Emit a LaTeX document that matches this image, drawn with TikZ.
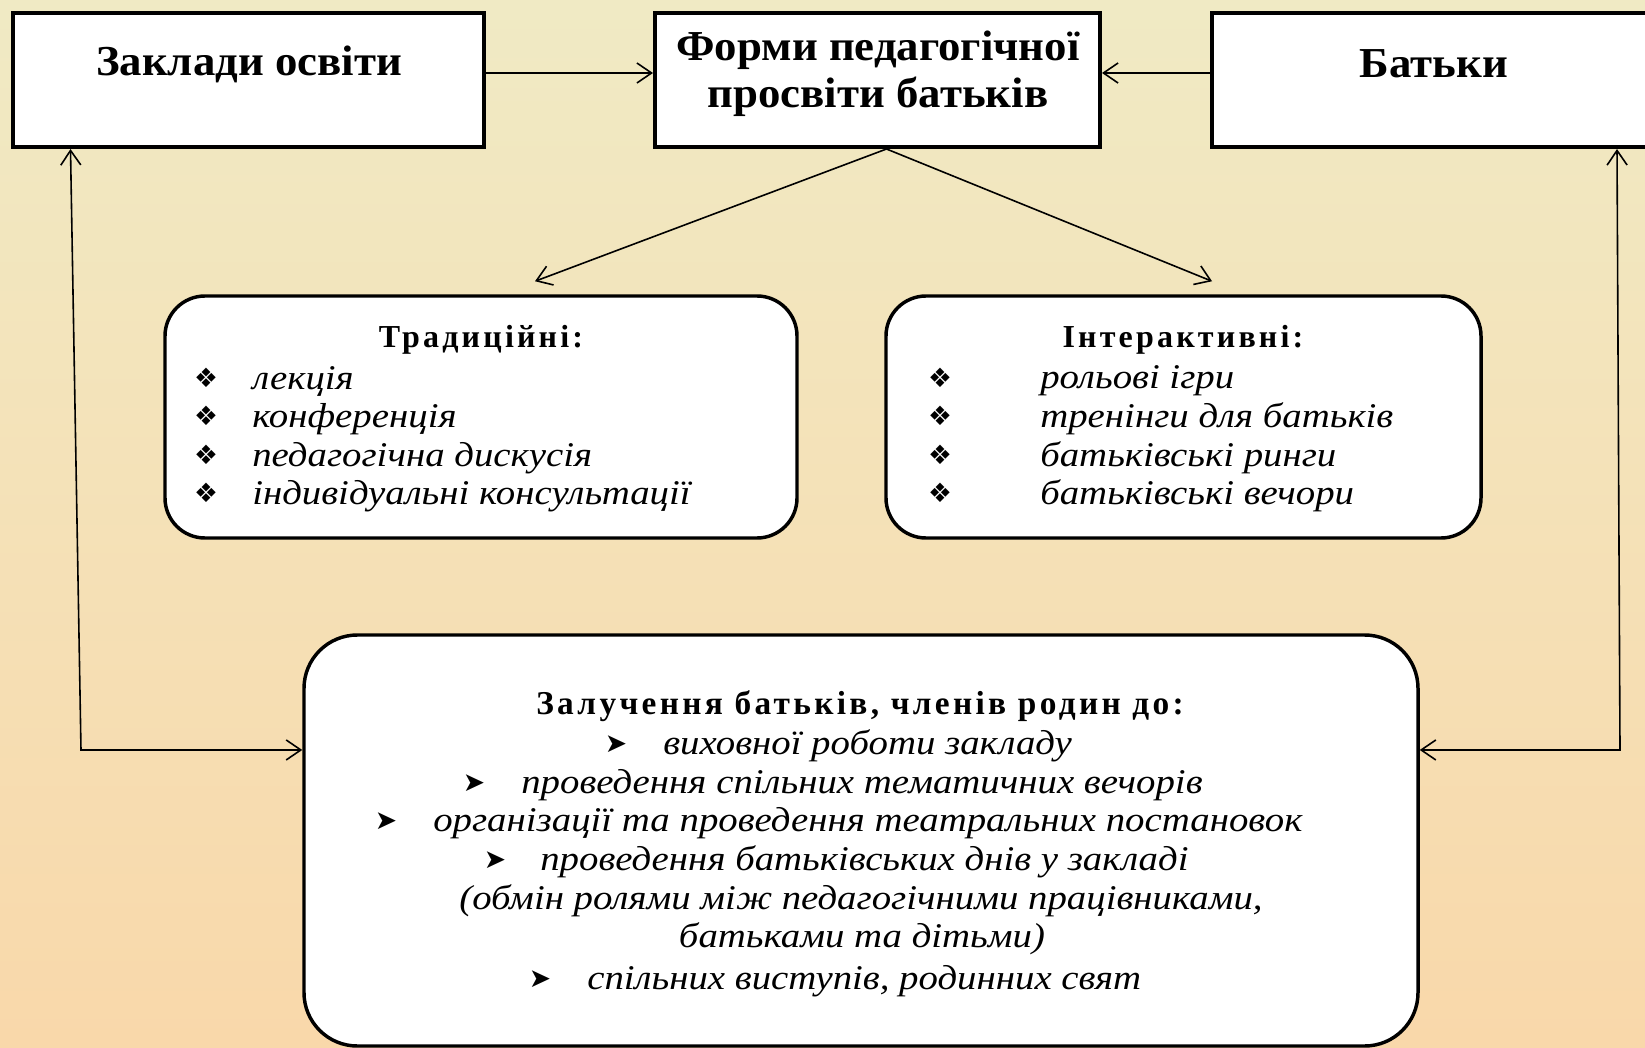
\documentclass[tikz,border=0pt]{standalone}
\usepackage{fontspec}
\setmainfont{Liberation Serif}
\newfontfamily\symfont{DejaVu Sans}
\newfontfamily\spacedfont[LetterSpace=10]{Liberation Serif}
\newfontfamily\itemfont[FakeStretch=1.12]{Liberation Serif}
\newfontfamily\headfont[FakeStretch=1.05]{Liberation Serif}
\usetikzlibrary{arrows.meta}
\definecolor{bgtop}{RGB}{240,234,196}
\definecolor{bgbot}{RGB}{249,216,170}
\begin{document}
\begin{tikzpicture}[x=0.75pt,y=-0.75pt,
  topbox/.style={draw=black, line width=3pt, fill=white, minimum height=100.5pt, inner sep=0pt},
  roundbox/.style={draw=black, line width=2.6pt, fill=white, rounded corners=30pt, inner sep=0pt},
  toptext/.style={font=\fontsize{32}{35}\selectfont\headfont\bfseries, align=center, inner sep=0pt},
  boxtitle/.style={font=\fontsize{24}{28}\selectfont\spacedfont\bfseries, inner sep=0pt},
  bottitle/.style={font=\fontsize{25}{30}\selectfont\spacedfont\bfseries, inner sep=0pt},
  itemtext/.style={font=\fontsize{26}{30}\selectfont\itemfont\itshape, anchor=west, inner sep=0pt},
  diam/.style={font=\fontsize{20}{24}\selectfont\symfont, inner sep=0pt},
  arr/.style={font=\fontsize{20}{24}\selectfont\symfont, inner sep=0pt},
  conn/.style={draw=black, line width=1.2pt, -{Straight Barb[length=11pt,width=15pt]}},
  conn2/.style={draw=black, line width=1.2pt, {Straight Barb[length=11pt,width=15pt]}-{Straight Barb[length=11pt,width=15pt]}}
]
\useasboundingbox (0,0) rectangle (1645,1048);
\shade[top color=bgtop, bottom color=bgbot] (0,0) rectangle (1645,1048);

% top boxes
\node[topbox, minimum width=353.25pt] (lb) at (248,80) {};
\node[topbox, minimum width=333.75pt] (cb) at (877.5,80) {};
\node[topbox, minimum width=333pt] (rb) at (1434,80) {};
\node[toptext] (lbt) at (249,64) {Заклади освіти};
\node[toptext] (cbt) at (878,74) {Форми педагогічної\\просвіти батьків};
\node[toptext] (rbt) at (1434,64) {Батьки};

% middle boxes
\node[roundbox, minimum width=474pt, minimum height=181.5pt] (tb) at (481,417) {};
\node[roundbox, minimum width=446.25pt, minimum height=181.5pt] (ib) at (1183.5,417) {};

\node[boxtitle] (tbt) at (481,340) {Традиційні:};
\node[diam] (td1) at (206,378) {❖};
\node[diam] (td2) at (206,416) {❖};
\node[diam] (td3) at (206,455) {❖};
\node[diam] (td4) at (206,493) {❖};
\node[itemtext] (ti1) at (252,381) {лекція};
\node[itemtext] (ti2) at (252,419) {конференція};
\node[itemtext] (ti3) at (252,458) {педагогічна дискусія};
\node[itemtext] (ti4) at (252,496) {індивідуальні консультації};

\node[boxtitle] (ibt) at (1183,340) {Інтерактивні:};
\node[diam] (id1) at (940,378) {❖};
\node[diam] (id2) at (940,416) {❖};
\node[diam] (id3) at (940,455) {❖};
\node[diam] (id4) at (940,493) {❖};
\node[itemtext] (ii1) at (1040,381) {рольові ігри};
\node[itemtext] (ii2) at (1040,419) {тренінги для батьків};
\node[itemtext] (ii3) at (1040,458) {батьківські ринги};
\node[itemtext] (ii4) at (1040,496) {батьківські вечори};

% bottom box
\node[roundbox, rounded corners=40pt, minimum width=835.5pt, minimum height=308.25pt] (bb) at (861,840.5) {};
\node[bottitle] (bbt) at (860,706) {Залучення батьків, членів родин до:};
\node[arr] (ba1) at (616,744) {➤};
\node[itemtext] (bi1) at (663,746) {виховної роботи закладу};
\node[arr] (ba2) at (474,783) {➤};
\node[itemtext] (bi2) at (521,785) {проведення спільних тематичних вечорів};
\node[arr] (ba3) at (386,821) {➤};
\node[itemtext] (bi3) at (433,823) {організації та проведення театральних постановок};
\node[arr] (ba4) at (495,860) {➤};
\node[itemtext] (bi4) at (540,862) {проведення батьківських днів у закладі};
\node[itemtext, anchor=center] (bi5) at (861,901) {(обмін ролями між педагогічними працівниками,};
\node[itemtext, anchor=center] (bi6) at (862,939) {батьками та дітьми)};
\node[arr] (ba7) at (540,979) {➤};
\node[itemtext] (bi7) at (587,981) {спільних виступів, родинних свят};

% connectors
\draw[conn] ([yshift=5.25pt]lb.east) -- ([yshift=5.25pt]cb.west);
\draw[conn] ([yshift=5.25pt]rb.west) -- ([yshift=5.25pt]cb.east);
\draw[conn] ([xshift=6.75pt]cb.south) -- ([xshift=40.5pt,yshift=9.75pt]tb.north);
\draw[conn] ([xshift=6.75pt]cb.south) -- ([xshift=21.4pt,yshift=9.75pt]ib.north);
\coordinate (cL) at (81,750);
\coordinate (cR) at (1620,750);
\draw[conn2] ([yshift=67.9pt]bb.west) -- (cL) -- ([xshift=45pt]lb.south west);
\draw[conn2] ([yshift=67.9pt]bb.east) -- (cR) -- ([xshift=305.25pt]rb.south west);
\end{tikzpicture}
\end{document}
